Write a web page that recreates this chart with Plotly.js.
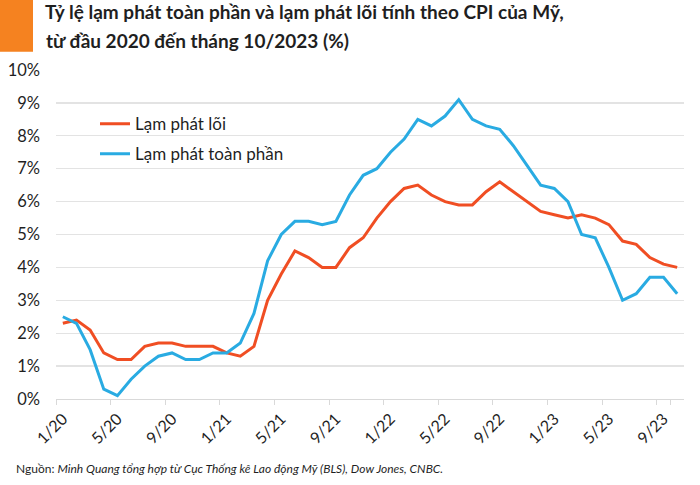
<!DOCTYPE html>
<html>
<head>
<meta charset="utf-8">
<script src="https://cdn.plot.ly/plotly-3.0.1.min.js"></script>
<style>html,body{margin:0;padding:0;background:#fff;}#chart{width:700px;height:485px;}</style>
</head>
<body>
<div id="chart"></div>
<script>
const months = ["1/20","2/20","3/20","4/20","5/20","6/20","7/20","8/20","9/20","10/20","11/20","12/20",
"1/21","2/21","3/21","4/21","5/21","6/21","7/21","8/21","9/21","10/21","11/21","12/21",
"1/22","2/22","3/22","4/22","5/22","6/22","7/22","8/22","9/22","10/22","11/22","12/22",
"1/23","2/23","3/23","4/23","5/23","6/23","7/23","8/23","9/23","10/23"];
const coreInflation = [2.3,2.4,2.1,1.4,1.2,1.2,1.6,1.7,1.7,1.6,1.6,1.6,
1.4,1.3,1.6,3.0,3.8,4.5,4.3,4.0,4.0,4.6,4.9,5.5,
6.0,6.4,6.5,6.2,6.0,5.9,5.9,6.3,6.6,6.3,6.0,5.7,
5.6,5.5,5.6,5.5,5.3,4.8,4.7,4.3,4.1,4.0];
const headlineInflation = [2.5,2.3,1.5,0.3,0.1,0.6,1.0,1.3,1.4,1.2,1.2,1.4,
1.4,1.7,2.6,4.2,5.0,5.4,5.4,5.3,5.4,6.2,6.8,7.0,
7.5,7.9,8.5,8.3,8.6,9.1,8.5,8.3,8.2,7.7,7.1,6.5,
6.4,6.0,5.0,4.9,4.0,3.0,3.2,3.7,3.7,3.2];
const tickLabels = ["1/20","5/20","9/20","1/21","5/21","9/21","1/22","5/22","9/22","1/23","5/23","9/23"];
const seriesNames = ["Lạm phát lõi","Lạm phát toàn phần"];

const FONT = "Lato, 'Open Sans', sans-serif";
const TXT = "#1f1f1f";
const traces = [
  {x: months, y: coreInflation, type: "scatter", mode: "lines", name: seriesNames[0],
   line: {color: "#F04E23", width: 3}, legendgroup: "a", hoverinfo: "skip"},
  {x: months, y: headlineInflation, type: "scatter", mode: "lines", name: seriesNames[1],
   line: {color: "#29ABE2", width: 3}, legendgroup: "b", hoverinfo: "skip"}
];
const layout = {
  width: 700, height: 485,
  margin: {l: 56, r: 16, t: 70, b: 86},
  paper_bgcolor: "#fff", plot_bgcolor: "#fff",
  font: {family: FONT, size: 15, color: TXT},
  title: {
    text: "<b>Tỷ lệ lạm phát toàn phần và lạm phát lõi tính theo CPI của Mỹ,</b>",
    font: {family: FONT, size: 19, color: TXT},
    xref: "container", yref: "container", x: 45/700, xanchor: "left", y: 1 - 5.5/485, yanchor: "top"
  },
  xaxis: {
    type: "category", tickmode: "array", tickvals: tickLabels, ticktext: tickLabels,
    tickson: "boundaries", ticks: "outside", ticklen: 5, tickcolor: "#d9d9d9", tickwidth: 1,
    tickangle: -45, showgrid: false, showline: true, linecolor: "#d9d9d9", linewidth: 1.3,
    ticklabelstandoff: 3,
    tickfont: {family: FONT, size: 16, color: TXT}, range: [-0.5, 45.5], fixedrange: true
  },
  yaxis: {
    range: [0, 10], dtick: 1, tick0: 0, ticksuffix: "%", showgrid: true, gridcolor: "#e3e3e3", gridwidth: 1.3,
    zeroline: false, showline: false, ticks: "", ticklabelstandoff: 15,
    tickfont: {family: FONT, size: 16.5, color: TXT}, fixedrange: true
  },
  showlegend: true,
  legend: {x: (95-56)/628, xanchor: "left", y: (399.3-106.5)/329, yanchor: "top",
    bgcolor: "rgba(0,0,0,0)", font: {family: FONT, size: 17, color: TXT}, tracegroupgap: 5},
  shapes: [
    {type: "rect", xref: "paper", yref: "paper", x0: (0-56)/628, x1: (33-56)/628,
     y0: (399.3-52)/329, y1: (399.3-0)/329, fillcolor: "#F58220", line: {width: 0}, layer: "above"}
  ],
  annotations: [
    {text: "<b>từ đầu 2020 đến tháng 10/2023 (%)</b>", xref: "paper", yref: "paper",
     x: (44-56)/628, xanchor: "left", y: (399.3-41)/329, yanchor: "middle", showarrow: false,
     font: {family: FONT, size: 19, color: TXT}},
    {text: "Nguồn: <i>Minh Quang tổng hợp từ Cục Thống kê Lao động Mỹ (BLS), Dow Jones, CNBC.</i>",
     xref: "paper", yref: "paper", x: (14-56)/628, xanchor: "left", y: (399.3-469)/329, yanchor: "middle",
     showarrow: false, font: {family: FONT, size: 12, color: TXT}}
  ]
};
Plotly.newPlot("chart", traces, layout, {displayModeBar: false, staticPlot: true});
</script>
</body>
</html>
